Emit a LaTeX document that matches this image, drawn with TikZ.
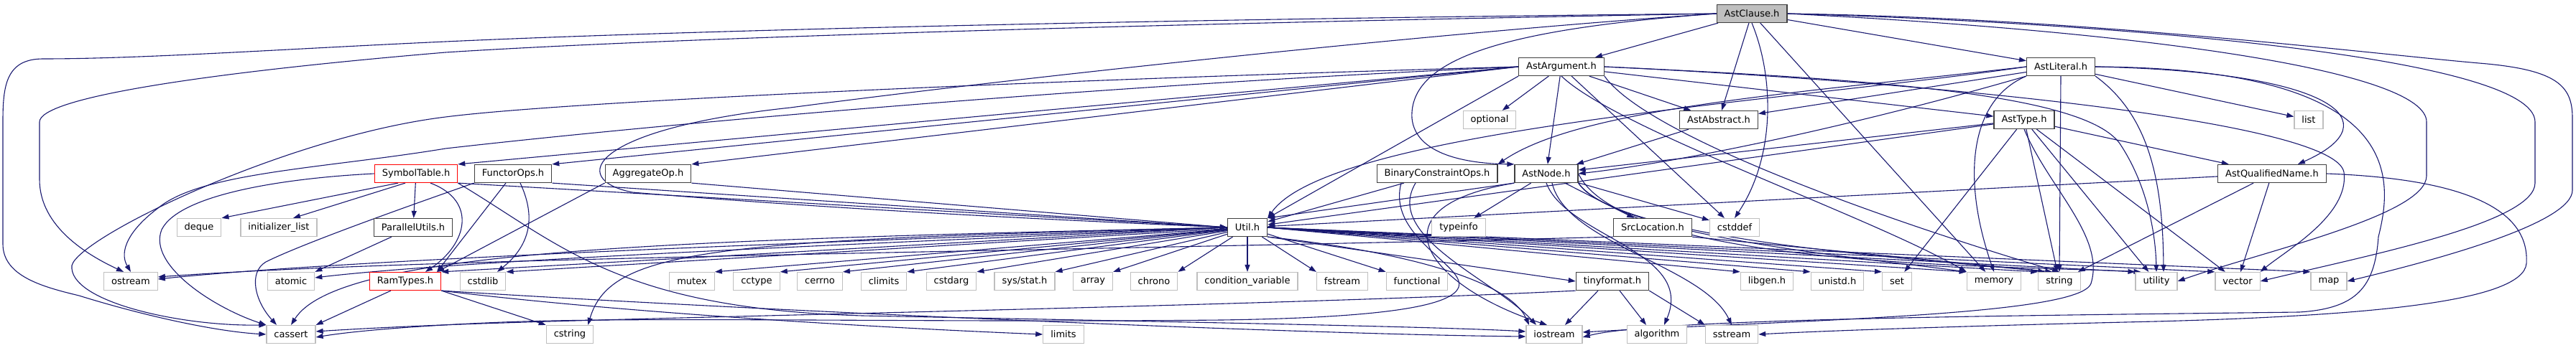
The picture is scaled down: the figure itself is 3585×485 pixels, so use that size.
\documentclass[tikz,border=0pt]{standalone}
\usepackage{fontspec}
\newfontfamily\dejavu{DejaVu Sans}
\usepackage{tikz}
\usetikzlibrary{arrows.meta}
\definecolor{blunotte}{HTML}{191970}
\definecolor{grigiobordo}{HTML}{BFBFBF}
\definecolor{scuro}{HTML}{404040}
\pgfdeclarelayer{sfondo}
\pgfsetlayers{sfondo,main}

\begin{document}
\begin{tikzpicture}[x=1bp,y=-1bp]
    % Stili per i file e le dipendenze
    \tikzset{
        file/.style={
            draw=scuro,
            line width=1.2bp,
            fill=white,
            minimum height=25bp,
            inner xsep=10.5bp,
            inner ysep=0bp,
            font=\dejavu\fontsize{13bp}{15bp}\selectfont
        },
        sistema/.style={file, draw=grigiobordo},
        troncato/.style={file, draw=red},
        radice/.style={file, fill=grigiobordo},
        dip/.style={draw=blunotte, line width=1.1bp, -{Triangle[length=10bp,width=7bp]}}
    }
    \useasboundingbox (0,0) rectangle (3585,485);

    % --- Livelli 1-3 ---
    \node[radice] (clause) at (2438,19) {AstClause.h};
    \node[file] (argument) at (2173,93) {AstArgument.h};
    \node[file] (literal) at (2868,93) {AstLiteral.h};
    \node[sistema] (optional) at (2073,167) {optional};
    \node[file] (abstract) at (2392,167) {AstAbstract.h};
    \node[file] (type) at (2817,167) {AstType.h};
    \node[sistema] (list) at (3213,167) {list};

    % --- Livello 4 ---
    \node[troncato] (symtab) at (579,242) {SymbolTable.h};
    \node[file] (functorops) at (714,242) {FunctorOps.h};
    \node[file] (aggrop) at (902,242) {AggregateOp.h};
    \node[file] (binconstr) at (2000,242) {BinaryConstraintOps.h};
    \node[file] (astnode) at (2152,242) {AstNode.h};
    \node[file] (qualname) at (3162,242) {AstQualifiedName.h};

    % --- Livello 5 ---
    \node[sistema] (deque) at (277,317) {deque};
    \node[sistema] (initlist) at (388,317) {initializer\_list};
    \node[file] (parutils) at (575,317) {ParallelUtils.h};
    \node[file] (util) at (1736,317) {Util.h};
    \node[sistema] (typeinfo) at (2030,317) {typeinfo};
    \node[file] (srcloc) at (2300,317) {SrcLocation.h};
    \node[sistema] (cstddef) at (2414,317) {cstddef};

    % --- Livello 6 ---
    \node[sistema] (ostream) at (182,392) {ostream};
    \node[sistema] (atomic) at (405,392) {atomic};
    \node[troncato] (ramtypes) at (564,392) {RamTypes.h};
    \node[sistema] (cstdlib) at (672,392) {cstdlib};
    \node[sistema] (mutex) at (963,392) {mutex};
    \node[sistema] (cctype) at (1053,392) {cctype};
    \node[sistema] (cerrno) at (1141,392) {cerrno};
    \node[sistema] (climits) at (1230,392) {climits};
    \node[sistema] (cstdarg) at (1324,392) {cstdarg};
    \node[sistema] (sysstat) at (1426,392) {sys/stat.h};
    \node[sistema] (array) at (1521,392) {array};
    \node[sistema] (chrono) at (1606,392) {chrono};
    \node[sistema] (condvar) at (1736,392) {condition\_variable};
    \node[sistema] (fstream) at (1868,392) {fstream};
    \node[sistema] (functional) at (1972,392) {functional};
    \node[file] (tinyfmt) at (2244,392) {tinyformat.h};
    \node[sistema] (libgen) at (2459,392) {libgen.h};
    \node[sistema] (unistd) at (2557,392) {unistd.h};
    \node[sistema] (set) at (2640,392) {set};
    \node[sistema] (memory) at (2775,392) {memory};
    \node[sistema] (string) at (2866,392) {string};
    \node[sistema] (utility) at (3001,392) {utility};
    \node[sistema] (vector) at (3114,392) {vector};
    \node[sistema] (map) at (3241,392) {map};

    % --- Livello 7 ---
    \node[sistema] (cassert) at (405,466) {cassert};
    \node[sistema] (cstring) at (793,466) {cstring};
    \node[sistema] (limits) at (1480,466) {limits};
    \node[sistema] (iostream) at (2163,466) {iostream};
    \node[sistema] (algorithm) at (2306,466) {algorithm};
    \node[sistema] (sstream) at (2410,466) {sstream};

    \begin{pgfonlayer}{sfondo}
    % AstClause.h
    \draw[dip] (clause) -- (argument);
    \draw[dip] (clause) -- (literal);
    \draw[dip] (clause) -- (abstract);
    \draw[dip] (clause) -- (memory);
    \draw[dip] (clause.south) .. controls (2470,110) and (2470,220) .. (cstddef.north);
    \draw[dip] (clause.west) .. controls (2100,40) and (1960,80) .. (1965,165)
        .. controls (1970,215) and (2040,228) .. (astnode.north west);
    \draw[dip] (clause.west) .. controls (1500,28) and (900,45) .. (620,58)
        .. controls (400,68) and (200,82) .. (60,82) .. controls (8,82) and (4,120) .. (4,170)
        -- (4,340) .. controls (4,385) and (60,400) .. (110,412)
        .. controls (200,440) and (300,462) .. (cassert.west);
    \draw[dip] (clause.west) .. controls (1500,35) and (900,55) .. (620,73)
        .. controls (300,100) and (55,135) .. (55,170) -- (55,250)
        .. controls (55,310) and (110,350) .. ([xshift=-10bp]ostream.north);
    \draw[dip] (clause.west) .. controls (2000,45) and (1400,110) .. (1100,150)
        .. controls (820,180) and (790,250) .. (880,268)
        .. controls (1200,295) and (1550,310) .. (util.west);
    \draw[dip] (clause.east) .. controls (2900,25) and (3300,75) .. (3450,88)
        .. controls (3560,97) and (3580,120) .. (3580,165) -- (3580,265)
        .. controls (3580,310) and (3400,360) .. (map.east);
    \draw[dip] (clause.east) .. controls (2950,32) and (3528,80) .. (3528,170) -- (3528,255)
        .. controls (3528,310) and (3300,355) .. (vector.east);
    \draw[dip] (clause.east) .. controls (3000,45) and (3377,100) .. (3377,170) -- (3377,245)
        .. controls (3377,300) and (3150,350) .. (utility.east);

    % AstArgument.h
    \draw[dip] (argument) -- (optional);
    \draw[dip] (argument) -- (abstract);
    \draw[dip] (argument) -- (astnode);
    \draw[dip] (argument) -- (type);
    \draw[dip] (argument) -- (cstddef);
    \draw[dip] (argument.west) -- (symtab.north east);
    \draw[dip] (argument.west) -- (functorops.north east);
    \draw[dip] (argument.west) -- (aggrop.north east);
    \draw[dip] (argument.south west) -- (util.north east);
    \draw[dip] (argument.south) .. controls (2250,180) and (2600,300) .. (memory.north west);
    \draw[dip] (argument.south east) .. controls (2300,200) and (2700,330) .. (string.north);
    \draw[dip] (argument.east) .. controls (2600,110) and (2900,130) .. (2950,200)
        .. controls (2990,260) and (3000,330) .. (utility.north);
    \draw[dip] (argument.east) .. controls (2700,115) and (3250,170) .. (3262,240)
        .. controls (3270,300) and (3180,350) .. (vector.north east);
    \draw[dip] (argument.west) .. controls (1500,110) and (800,140) .. (620,163)
        .. controls (400,190) and (110,330) .. (100,370)
        .. controls (95,420) and (250,455) .. (cassert.north west);
    \draw[dip] (argument.west) .. controls (1500,120) and (900,175) .. (620,207)
        .. controls (450,235) and (280,240) .. (220,290)
        .. controls (180,320) and (165,350) .. (ostream.north);

    % AstLiteral.h
    \draw[dip] (literal) -- (abstract);
    \draw[dip] (literal) -- (list);
    \draw[dip] (literal.south) -- (string.north);
    \draw[dip] (literal.south west) .. controls (2600,170) and (2350,225) .. (astnode.east);
    \draw[dip] (literal.west) .. controls (2500,130) and (2200,150) .. (binconstr.north east);
    \draw[dip] (literal.west) .. controls (2500,140) and (1850,180) .. (util.north east);
    \draw[dip] (literal.south west) .. controls (2740,140) and (2730,250) .. (memory.north);
    \draw[dip] (literal.south east) .. controls (2990,160) and (3010,250) .. ([xshift=10bp]utility.north);
    \draw[dip] (literal.east) .. controls (3250,100) and (3330,170) .. ([xshift=-40bp]qualname.north east);
    \draw[dip] (literal.east) .. controls (3350,95) and (3330,250) .. (3310,330)
        .. controls (3305,400) and (3280,430) .. (3200,435)
        .. controls (2800,440) and (2300,444) .. ([yshift=-4bp]iostream.east);

    % AstAbstract.h, AstType.h, AstQualifiedName.h
    \draw[dip] (abstract) -- (astnode);
    \draw[dip] (type) -- (astnode);
    \draw[dip] (type) -- (util);
    \draw[dip] (type) -- (qualname);
    \draw[dip] (type) -- (set);
    \draw[dip] (type) -- (string);
    \draw[dip] (type) -- (utility);
    \draw[dip] (type) -- (vector);
    \draw[dip] (type.south) .. controls (2850,260) and (2930,330) .. (2910,395)
        .. controls (2895,440) and (2500,446) .. ([yshift=3bp]iostream.east);
    \draw[dip] (qualname) -- (util);
    \draw[dip] (qualname) -- (string);
    \draw[dip] (qualname) -- (vector);
    \draw[dip] (qualname.east) .. controls (3450,250) and (3520,300) .. (3516,367)
        .. controls (3512,420) and (3300,440) .. (3000,448)
        .. controls (2700,455) and (2520,462) .. (sstream.east);

    % AstNode.h
    \draw[dip] (astnode) -- (typeinfo);
    \draw[dip] (astnode) -- (srcloc);
    \draw[dip] (astnode) -- (cstddef);
    \draw[dip] (astnode.south west) -- (util.north east);
    \draw[dip] (astnode.south east) .. controls (2250,330) and (2600,360) .. (memory.north west);
    \draw[dip] (astnode.south east) .. controls (2250,338) and (2700,362) .. ([xshift=10bp]string.north west);
    \draw[dip] (astnode.east) .. controls (2260,375) and (2800,370) .. ([xshift=8bp]utility.north west);
    \draw[dip] (astnode.south) .. controls (2180,330) and (2360,350) .. ([xshift=10bp]algorithm.north);
    \draw[dip] ([xshift=8bp]astnode.south) .. controls (2180,340) and (2370,370) .. (sstream.north);
    \draw[dip] (astnode.south west) .. controls (1900,290) and (1990,400) .. ([xshift=-10bp]iostream.north);

    % BinaryConstraintOps.h e SrcLocation.h
    \draw[dip] (binconstr) -- (util);
    \draw[dip] ([xshift=-30bp]binconstr.south) .. controls (1925,330) and (2080,390) .. ([xshift=-25bp]iostream.north);
    \draw[dip] ([xshift=-50bp]binconstr.south) .. controls (1930,330) and (2040,370) .. (2030,400)
        .. controls (2020,430) and (1900,443) .. (1700,446)
        .. controls (1300,450) and (900,441) .. (700,449)
        .. controls (600,453) and (500,460) .. ([yshift=-4bp]cassert.east);
    \draw[dip] (srcloc.south west) .. controls (1500,350) and (600,358) .. ([yshift=6bp]ostream.east);
    \draw[dip] (srcloc.south east) -- ([xshift=20bp]string.north west);

    % SymbolTable.h, ParallelUtils.h, FunctorOps.h, AggregateOp.h
    \draw[dip] ([xshift=-25bp]symtab.south) -- (deque.north east);
    \draw[dip] ([xshift=-15bp]symtab.south) -- ([xshift=20bp]initlist.north);
    \draw[dip] (symtab) -- (parutils);
    \draw[dip] ([xshift=20bp]symtab.south) .. controls (665,280) and (650,340) .. ([xshift=28bp]ramtypes.north);
    \draw[dip] (symtab.south east) -- (util.west);
    \draw[dip] (symtab.west) .. controls (400,248) and (250,270) .. (225,320)
        .. controls (205,370) and (300,430) .. (cassert.north west);
    \draw[dip] (symtab.south east) .. controls (780,340) and (860,430) .. (1200,440)
        .. controls (1600,448) and (2000,455) .. ([yshift=4bp]iostream.west);
    \draw[dip] ([xshift=-30bp]parutils.south) -- (atomic.north east);
    \draw[dip] ([xshift=-10bp]functorops.south) -- ([xshift=44bp]ramtypes.north);
    \draw[dip] ([xshift=10bp]functorops.south) .. controls (745,300) and (740,340) .. ([xshift=20bp]cstdlib.north);
    \draw[dip] (functorops.south east) -- (util.west);
    \draw[dip] (functorops.south west) .. controls (560,290) and (420,340) .. (370,365)
        .. controls (345,380) and (355,420) .. ([xshift=-20bp]cassert.north);
    \draw[dip] (aggrop.south west) -- ([xshift=-6bp]ramtypes.north east);
    \draw[dip] (aggrop.south east) -- (util.west);

    % Util.h
    \draw[dip] (util.west) .. controls (1200,335) and (500,360) .. ([yshift=3bp]ostream.east);
    \draw[dip] (util.west) .. controls (1200,340) and (650,362) .. ([yshift=5bp]atomic.east);
    \draw[dip] (util.west) -- (ramtypes.north east);
    \foreach \dest in {cstdlib,mutex,cctype,cerrno,climits,cstdarg,sysstat,array,chrono}
        \draw[dip] (util) -- (\dest.north east);
    \draw[dip] (util) -- (condvar);
    \foreach \dest in {fstream,functional}
        \draw[dip] (util) -- (\dest.north west);
    \draw[dip] (util.south east) -- (tinyfmt.west);
    \foreach \dest in {libgen,unistd,set,memory,string,utility,vector,map}
        \draw[dip] (util.east) -- (\dest.north west);
    \draw[dip] (util.west) .. controls (900,335) and (470,350) .. (cassert.north);
    \draw[dip] (util.west) .. controls (1000,335) and (850,345) .. ([xshift=-8bp]cstring.north east);
    \draw[dip] (util.south east) .. controls (1950,350) and (2100,390) .. ([xshift=-35bp]iostream.north);

    % tinyformat.h e RamTypes.h
    \draw[dip] ([xshift=-20bp]tinyfmt.south) -- ([xshift=15bp]iostream.north);
    \draw[dip] ([xshift=10bp]tinyfmt.south) -- ([xshift=-15bp]algorithm.north);
    \draw[dip] (tinyfmt.south east) -- (sstream.north west);
    \draw[dip] (tinyfmt.south west) .. controls (1800,425) and (1000,440) .. (700,450)
        .. controls (600,453) and (500,458) .. ([yshift=4bp]cassert.east);
    \draw[dip] ([xshift=-20bp]ramtypes.south) -- (cassert.north east);
    \draw[dip] (ramtypes.south east) -- (cstring.north west);
    \draw[dip] (ramtypes.south east) .. controls (900,440) and (1300,460) .. (limits.west);
    \draw[dip] (ramtypes.south east) .. controls (1000,430) and (1800,466) .. ([yshift=-3bp]iostream.west);
    \end{pgfonlayer}

\end{tikzpicture}
\end{document}
